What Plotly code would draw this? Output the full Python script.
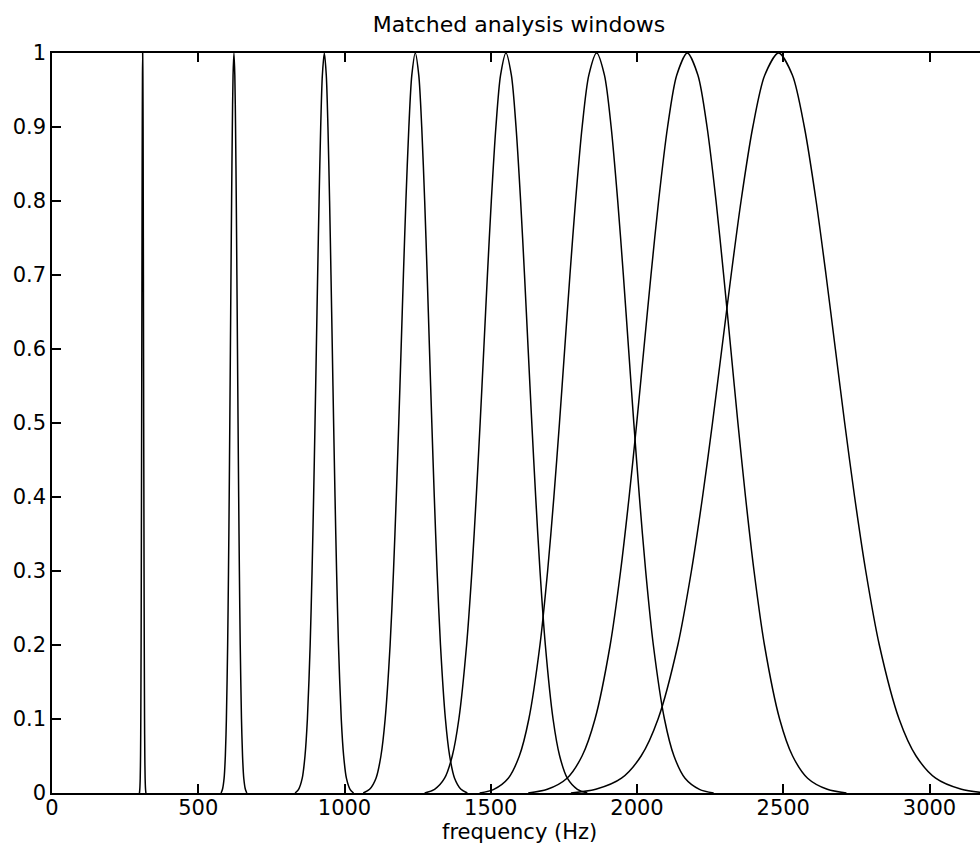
import plotly.graph_objects as go

# Window centre frequencies (Hz), read from the peaks
centers = [310, 622, 931, 1242, 1552, 1862, 2172, 2484]

# Amplitude levels at which the half-widths were read
levels = [1.0, 0.97, 0.9, 0.8, 0.7, 0.6, 0.5, 0.4, 0.3, 0.2, 0.1, 0.05, 0.02, 0.005, 0.0]

# Half-widths (Hz) of each window at the amplitude levels above
hw1 = [0, 0.7, 1.4, 2.0, 2.5, 3.0, 3.5, 4.1, 4.7, 5.4, 6.4, 7.3, 8.4, 9.8, 11]
hw2 = [0, 3.0, 5.5, 8.0, 10.1, 12.1, 14.1, 16.2, 18.6, 21.5, 25.8, 29.4, 33.6, 39.1, 44]
hw3 = [0, 6.7, 12.4, 18.0, 22.8, 27.3, 31.8, 36.6, 41.9, 48.4, 57.9, 66.1, 75.5, 87.9, 100]
hw4 = [0, 11.9, 22.0, 32.1, 40.6, 48.5, 56.5, 65.0, 74.5, 86.1, 103.0, 117.5, 134.3, 156.2, 178]
hw5 = [0, 18.5, 34.4, 50.1, 63.4, 75.8, 88.3, 101.6, 116.4, 134.6, 161.0, 183.6, 209.8, 244.1, 278]
hw6 = [0, 26.7, 49.6, 72.1, 91.3, 109.2, 127.1, 146.2, 167.6, 193.8, 231.8, 264.4, 302.1, 351.5, 400]
hw7 = [0, 36.3, 67.5, 98.2, 124.2, 148.6, 173.0, 199.0, 228.1, 263.7, 315.5, 359.9, 411.2, 478.5, 544]
hw8 = [0, 47.4, 88.1, 128.3, 162.2, 194.1, 226.0, 260.0, 298.0, 344.4, 412.0, 470.0, 537.0, 625.0, 710]
half_widths = [hw1, hw2, hw3, hw4, hw5, hw6, hw7, hw8]

x_ticks = [0, 500, 1000, 1500, 2000, 2500, 3000]
y_ticks = [0, 0.1, 0.2, 0.3, 0.4, 0.5, 0.6, 0.7, 0.8, 0.9, 1]
y_tick_text = ["0", "0.1", "0.2", "0.3", "0.4", "0.5", "0.6", "0.7", "0.8", "0.9", "1"]

fig = go.Figure()
for c, hw in zip(centers, half_widths):
    xs = [c - h for h in reversed(hw)] + [c + h for h in hw[1:]]
    ys = list(reversed(levels)) + levels[1:]
    fig.add_trace(go.Scatter(x=xs, y=ys, mode="lines",
                             line=dict(color="black", width=1.5, shape="spline", smoothing=0.8),
                             hoverinfo="skip", showlegend=False))

font_family = "DejaVu Sans"
fig.update_layout(
    width=980, height=844,
    margin=dict(l=52, r=0, t=53, b=51),
    plot_bgcolor="white", paper_bgcolor="white",
    font=dict(family=font_family, size=21, color="black"),
    showlegend=False,
    title=dict(text="Matched analysis windows", x=519 / 980, xanchor="center",
               yref="container", y=1 - 24 / 844, yanchor="middle",
               font=dict(family=font_family, size=22, color="black")),
    xaxis=dict(range=[0, 3172.6], tickvals=x_ticks, ticks="inside", ticklen=9,
               tickwidth=1.5, tickcolor="black", showline=True, linecolor="black",
               linewidth=1.5, mirror="ticks", showgrid=False, zeroline=False,
               ticklabelstandoff=-5, tickfont=dict(size=21)),
    yaxis=dict(range=[0, 1], tickvals=y_ticks, ticktext=y_tick_text, ticks="inside",
               ticklen=9, tickwidth=1.5, tickcolor="black", showline=True,
               linecolor="black", linewidth=1.5, mirror=False, showgrid=False,
               zeroline=False, tickfont=dict(size=21)),
    yaxis2=dict(overlaying="y", side="right", range=[0, 1], tickvals=y_ticks,
                ticks="inside", ticklen=2, tickwidth=1.5, tickcolor="black",
                showticklabels=False, showline=False, showgrid=False, zeroline=False),
    annotations=[dict(text="frequency (Hz)", xref="paper", yref="paper",
                      x=(519 - 52) / 928, y=(793 - 832) / 740, xanchor="center",
                      yanchor="middle", showarrow=False,
                      font=dict(family=font_family, size=21, color="black"))],
)

fig.write_html("out.html")
